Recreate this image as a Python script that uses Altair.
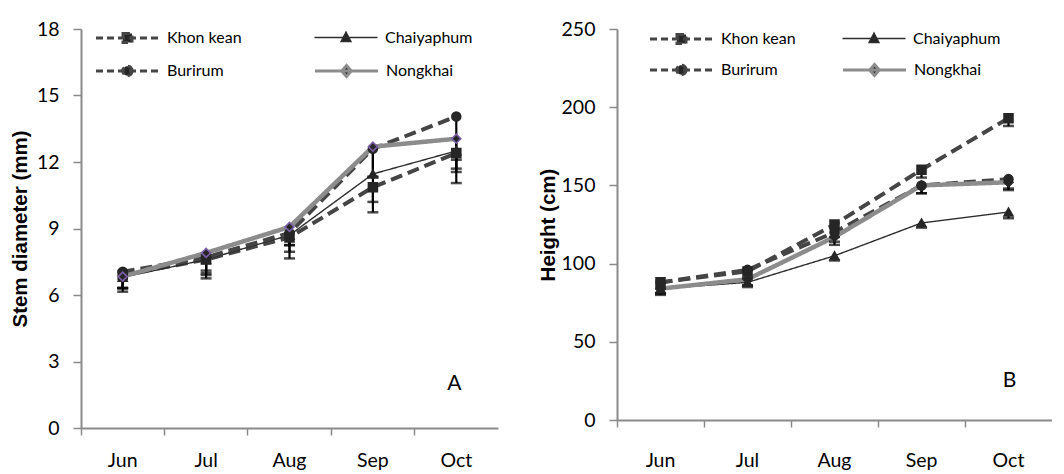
import altair as alt
import pandas as pd

months = ["Jun", "Jul", "Aug", "Sep", "Oct"]
sites = ["Khon kean", "Chaiyaphum", "Burirum", "Nongkhai"]

# Stem diameter (mm)
diam_khon = [6.9, 7.6, 8.6, 10.86, 12.4]
diam_chai = [6.8, 7.6, 8.7, 11.46, 12.5]
diam_buri = [7.05, 7.7, 8.8, 12.6, 14.05]
diam_nong = [6.83, 7.9, 9.07, 12.69, 13.05]
diam_err_khon = [0.6, 0.85, 0.95, 1.13, 1.35]
diam_err_chai = [0.65, 0.7, 0.75, 1.26, 0.95]
diam_err_buri = [0.75, 0.72, 0.55, 1.27, 1.95]
diam_err_nong = [0.5, 0.8, 0.82, 1.36, 1.35]

# Height (cm)
hgt_khon = [88, 95, 125, 160, 193]
hgt_chai = [84, 88, 105, 126, 133]
hgt_buri = [88, 96, 120, 150, 154]
hgt_nong = [84, 90, 117, 150, 152]
hgt_err_khon = [4, 4, 8, 5, 5]
hgt_err_chai = [3, 3, 3, 3, 4]
hgt_err_buri = [7, 10, 6, 5, 6]
hgt_err_nong = [4, 4, 5, 5, 5]

panel_labels = ["A", "B"]
panel_label_month = "Oct"
panel_label_y = [2.0, 25]


def long_df(vals, errs):
    rows = []
    for s, v, e in zip(sites, vals, errs):
        for m, vv, ee in zip(months, v, e):
            rows.append({"month": m, "site": s, "value": vv, "lower": vv - ee})
    return pd.DataFrame(rows)


diam_df = long_df([diam_khon, diam_chai, diam_buri, diam_nong],
                  [diam_err_khon, diam_err_chai, diam_err_buri, diam_err_nong])
hgt_df = long_df([hgt_khon, hgt_chai, hgt_buri, hgt_nong],
                 [hgt_err_khon, hgt_err_chai, hgt_err_buri, hgt_err_nong])

AXIS_GRAY = "#8a8a8a"
DARK = "#262626"
TICK_FONT = "Lato"
TICK_SIZE = 19.5

LINE_STYLE = {
    "Khon kean": dict(color="#454545", dash=[12, 6], width=4),
    "Chaiyaphum": dict(color="#2e2e2e", dash=[1, 0], width=1.4),
    "Burirum": dict(color="#454545", dash=[12, 6], width=4),
    "Nongkhai": dict(color="#8c8c8c", dash=[1, 0], width=4.5),
}
MARKER = {"Khon kean": "square", "Chaiyaphum": "triangle-up", "Burirum": "circle", "Nongkhai": "diamond"}
# legend symbols: a 63px line with the marker in its middle (unit = 10 px)
LEG_PATH = {
    "Khon kean": "M-3.15,0H3.15M-0.45,-0.45H0.45V0.45H-0.45Z",
    "Chaiyaphum": "M-3.15,0H3.15M0,-0.55L0.5,0.4H-0.5Z",
    "Burirum": "M-3.15,0H3.15M0.47,0A0.47,0.47,0,1,1,-0.47,0A0.47,0.47,0,1,1,0.47,0Z",
    "Nongkhai": "M-3.15,0H3.15M0,-0.55L0.48,0L0,0.55L-0.48,0Z",
}
LEG_DASH = {"Khon kean": [7, 4], "Chaiyaphum": [1, 0], "Burirum": [7, 4], "Nongkhai": [1, 0]}
LEG_SW = {"Khon kean": 3, "Chaiyaphum": 1.3, "Burirum": 3, "Nongkhai": 3}


def panel(df, ydomain, yvalues, ytitle, w, h, leg_pos, diamond_stroke, lab, laby, lab_dx, lpad, tpad):
    x = alt.X("month:N", sort=months, title=None,
              scale=alt.Scale(paddingInner=0, paddingOuter=0),
              axis=alt.Axis(labelAngle=0, labelFont=TICK_FONT, labelFontSize=TICK_SIZE,
                            labelColor="#000000", labelPadding=lpad, tickSize=7,
                            tickColor=AXIS_GRAY, tickWidth=1.5, domainColor=AXIS_GRAY,
                            domainWidth=2, bandPosition=0, grid=False))
    y = alt.Y("value:Q", scale=alt.Scale(domain=ydomain, nice=False, zero=True), title=ytitle,
              axis=alt.Axis(values=yvalues, labelFont=TICK_FONT, labelFontSize=TICK_SIZE,
                            labelColor="#000000", tickSize=8, tickColor=AXIS_GRAY, tickWidth=1.5,
                            labelPadding=14, domainColor=AXIS_GRAY, domainWidth=2, grid=False,
                            titleFont="Liberation Sans", titleFontSize=20.5, titleFontWeight="bold",
                            titleColor="#000000", titlePadding=tpad))
    xs = alt.X("month:N", sort=months)
    lines, bars, pts, legs = [], [], [], []
    for s in sites:
        st = LINE_STYLE[s]
        d = df[df["site"] == s]
        base = alt.Chart(d)
        lines.append(base.mark_line(color=st["color"], strokeDash=st["dash"],
                                    strokeWidth=st["width"]).encode(x=x, y=y))
        bars.append(base.mark_rule(color="#000000", strokeWidth=2.2).encode(
            x=xs, y="value:Q", y2="lower:Q"))
        bars.append(base.mark_tick(color="#000000", thickness=2.5, size=11).encode(
            x=xs, y="lower:Q"))
        pts.append(base.mark_point(filled=True, size=80, opacity=1, shape=MARKER[s], fill=DARK,
                                   stroke=diamond_stroke if s == "Nongkhai" else DARK,
                                   strokeWidth=1.6).encode(x=xs, y="value:Q"))
        lx, ly = leg_pos[s]
        legs.append(base.mark_point(filled=True, opacity=0, stroke=st["color"],
                                    strokeWidth=LEG_SW[s], strokeDash=LEG_DASH[s]).encode(
            x=xs, y="value:Q",
            fill=alt.Fill("site:N", scale=alt.Scale(domain=[s], range=[DARK]),
                          legend=alt.Legend(orient="none", legendX=lx, legendY=ly, title=None,
                                            symbolType=LEG_PATH[s], symbolSize=400,
                                            symbolOpacity=1, symbolStrokeColor=st["color"],
                                            symbolStrokeWidth=LEG_SW[s], symbolDash=LEG_DASH[s],
                                            symbolFillColor=DARK, labelFont=TICK_FONT,
                                            labelFontSize=16, labelColor="#000000",
                                            labelOffset=28))))
    lab_df = pd.DataFrame({"month": [panel_label_month], "value": [laby], "t": [lab]})
    txt = alt.Chart(lab_df).mark_text(font=TICK_FONT, fontSize=21, color="#000000", dx=lab_dx).encode(
        x=xs, y="value:Q", text="t:N")
    return alt.layer(*lines, *bars, *pts, *legs, txt).resolve_scale(fill="independent").properties(
        width=w, height=h)


left_leg = {"Khon kean": (35, -2.5), "Chaiyaphum": (254, -2.5),
            "Burirum": (35, 30.5), "Nongkhai": (254, 30.5)}
right_leg = {"Khon kean": (53, -1.5), "Chaiyaphum": (246, -1.5),
             "Burirum": (53, 29.5), "Nongkhai": (246, 29.5)}

left = panel(diam_df, [0, 18], [0, 3, 6, 9, 12, 15, 18], "Stem diameter (mm)", 417, 399,
             left_leg, "#7b5ea7", panel_labels[0], panel_label_y[0], -2, 16, 6)
right = panel(hgt_df, [0, 250], [0, 50, 100, 150, 200, 250], "Height (cm)", 435, 391,
              right_leg, DARK, panel_labels[1], panel_label_y[1], 1, 24, 3)

chart = alt.hconcat(left, right, spacing=40).resolve_scale(
    y="independent", x="independent", fill="independent"
).properties(padding={"left": 2, "top": 11, "right": 0, "bottom": 0}).configure_view(stroke=None)

chart.save("out.html", embed_options={"renderer": "svg", "actions": False})
